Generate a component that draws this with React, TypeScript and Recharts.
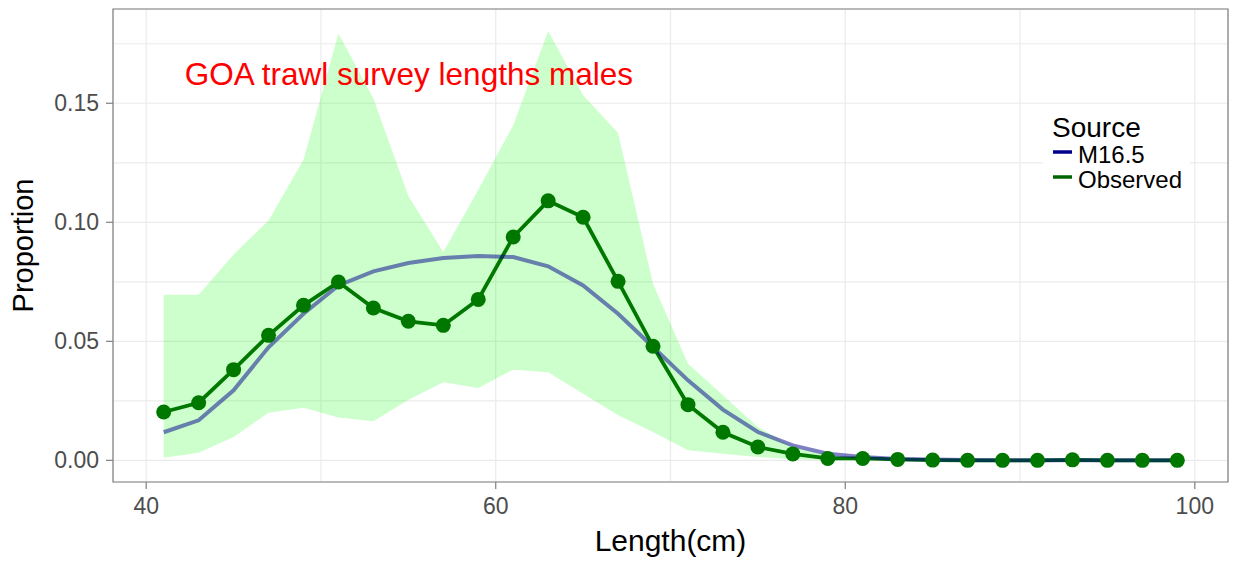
import React from "react";
import {
  ComposedChart,
  Area,
  Line,
  XAxis,
  YAxis,
  CartesianGrid,
  ReferenceArea,
  ReferenceDot,
} from "recharts";

// length bins (cm)
const lengths = [41, 43, 45, 47, 49, 51, 53, 55, 57, 59, 61, 63, 65, 67, 69, 71, 73, 75, 77, 79, 81, 83, 85, 87, 89, 91, 93, 95, 97, 99];

// observed proportions
const observed = [0.0203, 0.0242, 0.0381, 0.0525, 0.0651, 0.0749, 0.064, 0.0584, 0.0567, 0.0676, 0.0938, 0.109, 0.1021, 0.0752, 0.0479, 0.0234, 0.0118, 0.0056, 0.0027, 0.0008, 0.0008, 0.0004, 0.0001, 0.0, 0.0, 0.0, 0.0002, 0.0, 0.0, 0.0];

// model fit M16.5
const model = [0.0118, 0.0168, 0.0294, 0.0475, 0.0616, 0.0735, 0.0794, 0.0829, 0.085, 0.0858, 0.0854, 0.0815, 0.0735, 0.0616, 0.0476, 0.0336, 0.0213, 0.0119, 0.0063, 0.0028, 0.0014, 0.0006, 0.0003, 0.0001, 0.0, 0.0, 0.0, 0.0, 0.0, 0.0];

// ribbon around observed
const upper = [0.0696, 0.0696, 0.0865, 0.1008, 0.1263, 0.1793, 0.152, 0.111, 0.0875, 0.1137, 0.1408, 0.1804, 0.1534, 0.1375, 0.0742, 0.0406, 0.0273, 0.014, 0.0056, 0.0021, 0.001, 0.0005, 0.0002, 0.0001, 0.0, 0.0, 0.0004, 0.0, 0.0, 0.0];
const lower = [0.0011, 0.0032, 0.0098, 0.02, 0.0221, 0.018, 0.0164, 0.0255, 0.0328, 0.0304, 0.0381, 0.037, 0.028, 0.0189, 0.0119, 0.0042, 0.0028, 0.0014, 0.0005, 0.0, 0.0, 0.0, 0.0, 0.0, 0.0, 0.0, 0.0, 0.0, 0.0, 0.0];

const xTicks = [40, 50, 60, 70, 80, 90, 100];
const xLabels = [40, 60, 80, 100];
const yTicks = [0, 0.025, 0.05, 0.075, 0.1, 0.125, 0.15, 0.175];
const yLabels = [0, 0.05, 0.1, 0.15];

const X_DOMAIN: [number, number] = [38.1, 101.9];
const Y_DOMAIN: [number, number] = [-0.0091, 0.1896];

const FONT = "'Liberation Sans', Arial, sans-serif";
const GREEN = "#007800";
const BLUE = "#00008B";

const data = lengths.map((len, i) => ({
  len,
  observed: observed[i],
  model: model[i],
  band: [lower[i], upper[i]],
}));

function XTick(props: any) {
  const { x, y, payload } = props;
  const v = payload.value;
  if (!xLabels.includes(v)) return null;
  const axisY = y - 9;
  return (
    <g>
      <line x1={x} x2={x} y1={axisY} y2={axisY + 7} stroke="#7f7f7f" strokeWidth={1.2} />
      <text x={x} y={axisY + 32} textAnchor="middle" fontSize={23} fill="#4d4d4d" fontFamily={FONT}>
        {v}
      </text>
    </g>
  );
}

function YTick(props: any) {
  const { x, y, payload } = props;
  const v = payload.value;
  if (!yLabels.some((t) => Math.abs(t - v) < 1e-9)) return null;
  const axisX = x + 9;
  return (
    <g>
      <line x1={axisX - 7} x2={axisX} y1={y} y2={y} stroke="#7f7f7f" strokeWidth={1.2} />
      <text x={axisX - 14} y={y + 8} textAnchor="end" fontSize={23} fill="#4d4d4d" fontFamily={FONT}>
        {v.toFixed(2)}
      </text>
    </g>
  );
}

export default function App() {
  return (
    <div style={{ position: "fixed", left: 0, top: 0, width: 1235, height: 563, background: "#fff", fontFamily: FONT }}>
      <ComposedChart width={1235} height={563} data={data} margin={{ top: 9, right: 7, left: 0, bottom: 0 }}>
        <CartesianGrid stroke="#ebebeb" strokeWidth={1.2} />
        <XAxis
          dataKey="len"
          type="number"
          domain={X_DOMAIN}
          ticks={xTicks}
          allowDataOverflow
          height={81}
          axisLine={false}
          tickLine={false}
          tickSize={7}
          tickMargin={2}
          tick={<XTick />}
          label={{
            content: (p: any) => {
              const vb = p.viewBox;
              return (
                <text x={vb.x + vb.width / 2} y={vb.y + 69} textAnchor="middle" fontSize={30} fill="#000" fontFamily={FONT}>
                  Length(cm)
                </text>
              );
            },
          }}
        />
        <YAxis
          type="number"
          domain={Y_DOMAIN}
          ticks={yTicks}
          allowDataOverflow
          width={113}
          axisLine={false}
          tickLine={false}
          tickSize={7}
          tickMargin={2}
          tick={<YTick />}
          label={{
            content: (p: any) => {
              const vb = p.viewBox;
              const cx = vb.x + 33;
              const cy = vb.y + vb.height / 2;
              return (
                <text x={cx} y={cy} transform={`rotate(-90 ${cx} ${cy})`} textAnchor="middle" fontSize={29} fill="#000" fontFamily={FONT}>
                  Proportion
                </text>
              );
            },
          }}
        />
        <Area
          dataKey="band"
          type="linear"
          fill="#00ff00"
          fillOpacity={0.2}
          stroke="none"
          isAnimationActive={false}
        />
        <Line
          dataKey="observed"
          type="linear"
          stroke={GREEN}
          strokeWidth={3.8}
          dot={{ r: 7.5, fill: GREEN, stroke: "none" }}
          isAnimationActive={false}
        />
        <Line
          dataKey="model"
          type="linear"
          stroke={BLUE}
          strokeOpacity={0.5}
          strokeWidth={4}
          dot={false}
          isAnimationActive={false}
        />
        <ReferenceArea
          x1={X_DOMAIN[0]}
          x2={X_DOMAIN[1]}
          y1={Y_DOMAIN[0]}
          y2={Y_DOMAIN[1]}
          fill="none"
          stroke="#7f7f7f"
          strokeWidth={1.2}
        />
        <ReferenceDot
          x={55.03}
          y={0.1624}
          r={0}
          fill="none"
          stroke="none"
          label={{ value: "GOA trawl survey lengths males", position: "center", fill: "#ff0000", fontSize: 31.5, fontFamily: FONT }}
        />
      </ComposedChart>
      <svg width={1235} height={563} style={{ position: "absolute", left: 0, top: 0, pointerEvents: "none" }}>
        <rect x={1043} y={108} width={147} height={86} fill="#fff" />
        <text x={1052} y={137} fontSize={28} fill="#000" fontFamily={FONT}>Source</text>
        <line x1={1053} x2={1072} y1={152} y2={152} stroke={BLUE} strokeWidth={3.5} />
        <text x={1078} y={163} fontSize={24} fill="#000" fontFamily={FONT}>M16.5</text>
        <line x1={1053} x2={1072} y1={177} y2={177} stroke="#006400" strokeWidth={3.5} />
        <text x={1078} y={188} fontSize={24} fill="#000" fontFamily={FONT}>Observed</text>
      </svg>
    </div>
  );
}
